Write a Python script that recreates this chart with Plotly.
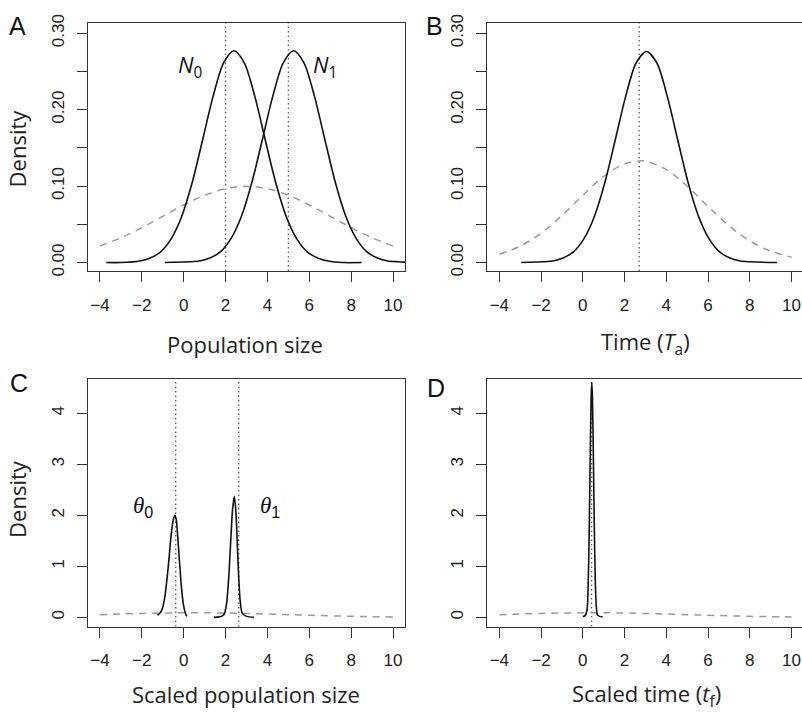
import plotly.graph_objects as go

W, H = 802, 714

# ---------------- data ----------------
x_ticks = [-4, -2, 0, 2, 4, 6, 8, 10]
x_ticklabels = ["\u22124", "\u22122", "0", "2", "4", "6", "8", "10"]
ab_yticks = [0.0, 0.10, 0.20, 0.30]
ab_yticklabels = ["0.00", "0.10", "0.20", "0.30"]
ab_minor_step = 0.05
cd_yticks = [0, 1, 2, 3, 4]
cd_yticklabels = ["0", "1", "2", "3", "4"]

# Panel A
a_n0_x = [-3.7, -3.0, -2.1, -1.6, -1.1, -0.6, -0.1, 0.4, 0.9, 1.4, 1.9, 2.4,
          2.9, 3.4, 3.9, 4.4, 4.9, 5.4, 5.9, 6.4, 6.9, 7.6, 8.5]
a_n0_y = [0.000, 0.000, 0.002, 0.006, 0.014, 0.031, 0.060, 0.104, 0.160, 0.217, 0.261, 0.277,
          0.261, 0.217, 0.160, 0.104, 0.060, 0.031, 0.014, 0.006, 0.002, 0.000, 0.000]
a_n1_x = [-0.9, 0.25, 0.75, 1.25, 1.75, 2.25, 2.75, 3.25, 3.75, 4.25, 4.75, 5.25,
          5.75, 6.25, 6.75, 7.25, 7.75, 8.25, 8.75, 9.25, 9.75, 10.25, 11.0]
a_n1_y = [0.000, 0.001, 0.002, 0.006, 0.014, 0.031, 0.060, 0.104, 0.160, 0.217, 0.261, 0.277,
          0.261, 0.217, 0.160, 0.104, 0.060, 0.031, 0.014, 0.006, 0.002, 0.001, 0.000]
a_prior_x = [-4, -3, -2, -1, 0, 1, 2, 3, 4, 5, 6, 7, 8, 9, 10]
a_prior_y = [0.0216, 0.0324, 0.0456, 0.0605, 0.0753, 0.0880, 0.0966, 0.0997,
             0.0966, 0.0880, 0.0753, 0.0605, 0.0456, 0.0324, 0.0216]
a_vlines = [2.0, 5.0]

# Panel B
b_post_x = [-2.95, -1.95, -1.45, -0.95, -0.45, 0.05, 0.55, 1.05, 1.55, 2.05, 2.55, 3.05,
            3.55, 4.05, 4.55, 5.05, 5.55, 6.05, 6.55, 7.05, 7.55, 8.05, 9.3]
b_post_y = [0.000, 0.001, 0.002, 0.006, 0.014, 0.031, 0.060, 0.104, 0.160, 0.217, 0.261, 0.276,
            0.261, 0.217, 0.160, 0.104, 0.060, 0.031, 0.014, 0.006, 0.002, 0.001, 0.000]
b_prior_x = [-4, -3, -2, -1, 0, 1, 2, 2.7, 3, 4, 5, 6, 7, 8, 9, 10]
b_prior_y = [0.0108, 0.0215, 0.0384, 0.0614, 0.0879, 0.1127, 0.1291, 0.1330, 0.1325,
             0.1216, 0.0999, 0.0734, 0.0483, 0.0284, 0.0150, 0.0071]
b_vlines = [2.7]

# Panel C
c_t0_x = [-1.25, -1.1, -1.0, -0.9, -0.8, -0.7, -0.6, -0.5, -0.42, -0.35, -0.3, -0.2, -0.1, 0.0, 0.1, 0.15]
c_t0_y = [0.04, 0.10, 0.20, 0.40, 0.74, 1.16, 1.60, 1.91, 2.00, 1.90, 1.67, 1.09, 0.56, 0.22, 0.06, 0.02]
c_t1_x = [1.45, 1.7, 1.85, 1.95, 2.05, 2.15, 2.25, 2.33, 2.42, 2.5, 2.57, 2.63, 2.7, 2.8, 3.0, 3.35]
c_t1_y = [0.00, 0.01, 0.03, 0.08, 0.28, 0.77, 1.52, 2.09, 2.37, 2.02, 1.34, 0.77, 0.32, 0.08, 0.02, 0.00]
c_prior_x = [-4, -3, -2, -1, 0, 1, 2, 3, 4, 5, 6, 7, 8, 9, 10]
c_prior_y = [0.0538, 0.0661, 0.0772, 0.0856, 0.0901, 0.0901, 0.0856, 0.0772,
             0.0661, 0.0538, 0.0415, 0.0305, 0.0212, 0.0140, 0.0088]
c_vlines = [-0.38, 2.63]

# Panel D
d_post_x = [0.0, 0.1, 0.2, 0.25, 0.3, 0.35, 0.4, 0.43, 0.46, 0.5, 0.55, 0.6, 0.65, 0.7, 0.8, 0.95]
d_post_y = [0.02, 0.03, 0.14, 0.54, 1.51, 3.01, 4.33, 4.60, 4.33, 3.33, 1.78, 0.68, 0.19, 0.05, 0.02, 0.01]
d_prior_x = [-4, -3, -2, -1, 0, 1, 2, 3, 4, 5, 6, 7, 8, 9, 10]
d_prior_y = [0.0538, 0.0661, 0.0772, 0.0856, 0.0901, 0.0901, 0.0856, 0.0772,
             0.0661, 0.0538, 0.0415, 0.0305, 0.0212, 0.0140, 0.0088]
d_vlines = [0.42]

# ---------------- styles ----------------
SOLID = dict(color="#111111", width=1.6, shape="spline", smoothing=0.8)
PRIOR = dict(color="#9a9a9a", width=1.5, dash="7px,6px", shape="spline", smoothing=1)
VLINE = dict(color="#666666", width=1.4, dash="1.5px,3px")
AXC = "#333333"
TICKFONT = dict(family="Liberation Sans, Arial, sans-serif", size=17, color="#222222")
TITLEFONT = dict(family="Open Sans, sans-serif", size=22, color="#222222")


def px(x):
    return x / W


def py(y):
    return 1 - y / H


fig = go.Figure()

panels = [
    ("x", "y", [(a_n0_x, a_n0_y), (a_n1_x, a_n1_y)], (a_prior_x, a_prior_y), a_vlines),
    ("x2", "y2", [(b_post_x, b_post_y)], (b_prior_x, b_prior_y), b_vlines),
    ("x3", "y3", [(c_t0_x, c_t0_y), (c_t1_x, c_t1_y)], (c_prior_x, c_prior_y), c_vlines),
    ("x4", "y4", [(d_post_x, d_post_y)], (d_prior_x, d_prior_y), d_vlines),
]

shapes = []
for xa, ya, solids, prior, vls in panels:
    fig.add_trace(go.Scatter(x=prior[0], y=prior[1], mode="lines", line=PRIOR,
                             xaxis=xa, yaxis=ya, showlegend=False, hoverinfo="skip"))
    for sx, sy in solids:
        fig.add_trace(go.Scatter(x=sx, y=sy, mode="lines", line=SOLID,
                                 xaxis=xa, yaxis=ya, showlegend=False, hoverinfo="skip"))
    for v in vls:
        shapes.append(dict(type="line", xref=xa, yref=ya + " domain", x0=v, x1=v,
                           y0=0, y1=1, line=VLINE, layer="below"))


def xaxis(domain, rng, anchor):
    return dict(domain=domain, range=rng, anchor=anchor, tickmode="array",
                tickvals=x_ticks, ticktext=x_ticklabels, ticks="outside", ticklen=10,
                tickwidth=1, tickcolor=AXC, showline=True, linecolor=AXC, linewidth=1,
                mirror=True, showgrid=False, zeroline=False, tickfont=TICKFONT,
                ticklabelstandoff=8, fixedrange=True)


def yaxis(domain, rng, anchor, vals, labels, mirror, minor_step=None):
    d = dict(domain=domain, range=rng, anchor=anchor, tickmode="array",
             tickvals=vals, ticktext=labels, ticks="outside", ticklen=10,
             tickwidth=1, tickcolor=AXC, showline=True, linecolor=AXC, linewidth=1,
             mirror=mirror, showgrid=False, zeroline=False, tickfont=TICKFONT,
             tickangle=-90, ticklabelstandoff=6, fixedrange=True)
    if minor_step:
        d["minor"] = dict(ticks="outside", ticklen=10, tickwidth=1, tickcolor=AXC,
                          tick0=0, dtick=minor_step, showgrid=False)
    return d


left_dom = [px(88), px(405)]
right_dom = [px(487), 1.0]
top_dom = [py(268), py(15)]
bot_dom = [py(630), py(377.7)]

AB_RANGE = [-0.0112, 0.3137]
CD_RANGE = [-0.179, 4.673]

fig.update_layout(
    width=W, height=H,
    margin=dict(l=0, r=0, t=0, b=0),
    paper_bgcolor="white", plot_bgcolor="white",
    xaxis=xaxis(left_dom, [-4.57, 10.57], "y"),
    yaxis=yaxis(top_dom, AB_RANGE, "x", ab_yticks, ab_yticklabels, True, ab_minor_step),
    xaxis2=xaxis(right_dom, [-4.59, 10.5], "y2"),
    yaxis2=yaxis(top_dom, AB_RANGE, "x2", ab_yticks, ab_yticklabels, False, ab_minor_step),
    xaxis3=xaxis(left_dom, [-4.57, 10.57], "y3"),
    yaxis3=yaxis(bot_dom, CD_RANGE, "x3", cd_yticks, cd_yticklabels, True),
    xaxis4=xaxis(right_dom, [-4.59, 10.5], "y4"),
    yaxis4=yaxis(bot_dom, CD_RANGE, "x4", cd_yticks, cd_yticklabels, False),
    shapes=shapes,
)

ann = []


def paper_text(text, x, y, font, angle=0):
    ann.append(dict(text=text, x=px(x), y=py(y), xref="paper", yref="paper",
                    xanchor="center", yanchor="middle", showarrow=False,
                    font=font, textangle=angle))


# axis titles
paper_text("Population size", 245, 342, TITLEFONT)
paper_text("Time (<i>T</i><sub>a</sub>)", 645, 341, TITLEFONT)
paper_text("Scaled population size", 246, 699, TITLEFONT)
paper_text("Scaled time (<i>t</i><sub>f</sub>)", 646, 700, TITLEFONT)
paper_text("Density", 17, 143, TITLEFONT, -90)
paper_text("Density", 17, 500, TITLEFONT, -90)

# panel letters
LETTER = dict(family="Liberation Sans, Arial, sans-serif", size=25, color="#111111")
paper_text("A", 17.5, 18, LETTER)
paper_text("B", 434, 18, LETTER)
paper_text("C", 19, 382, LETTER)
paper_text("D", 436, 387, LETTER)

# curve labels (data coordinates)
LAB = dict(family="Open Sans, sans-serif", size=22, color="#111111")
for t, x, y, xr, yr in [
    ("<i>N</i><sub>0</sub>", 0.30, 0.257, "x", "y"),
    ("<i>N</i><sub>1</sub>", 6.75, 0.257, "x", "y"),
]:
    ann.append(dict(text=t, x=x, y=y, xref=xr, yref=yr, showarrow=False,
                    xanchor="center", yanchor="middle", font=LAB))

THETA = dict(family="Liberation Serif, serif", size=23, color="#111111")
for t, x, y in [
    ("<i>\u03b8</i><sub><span style='font-family:Liberation Sans'>0</span></sub>", -1.95, 2.17),
    ("<i>\u03b8</i><sub><span style='font-family:Liberation Sans'>1</span></sub>", 4.12, 2.17),
]:
    ann.append(dict(text=t, x=x, y=y, xref="x3", yref="y3", showarrow=False,
                    xanchor="center", yanchor="middle", font=THETA))

fig.update_layout(annotations=ann)

fig.write_html("out.html")
